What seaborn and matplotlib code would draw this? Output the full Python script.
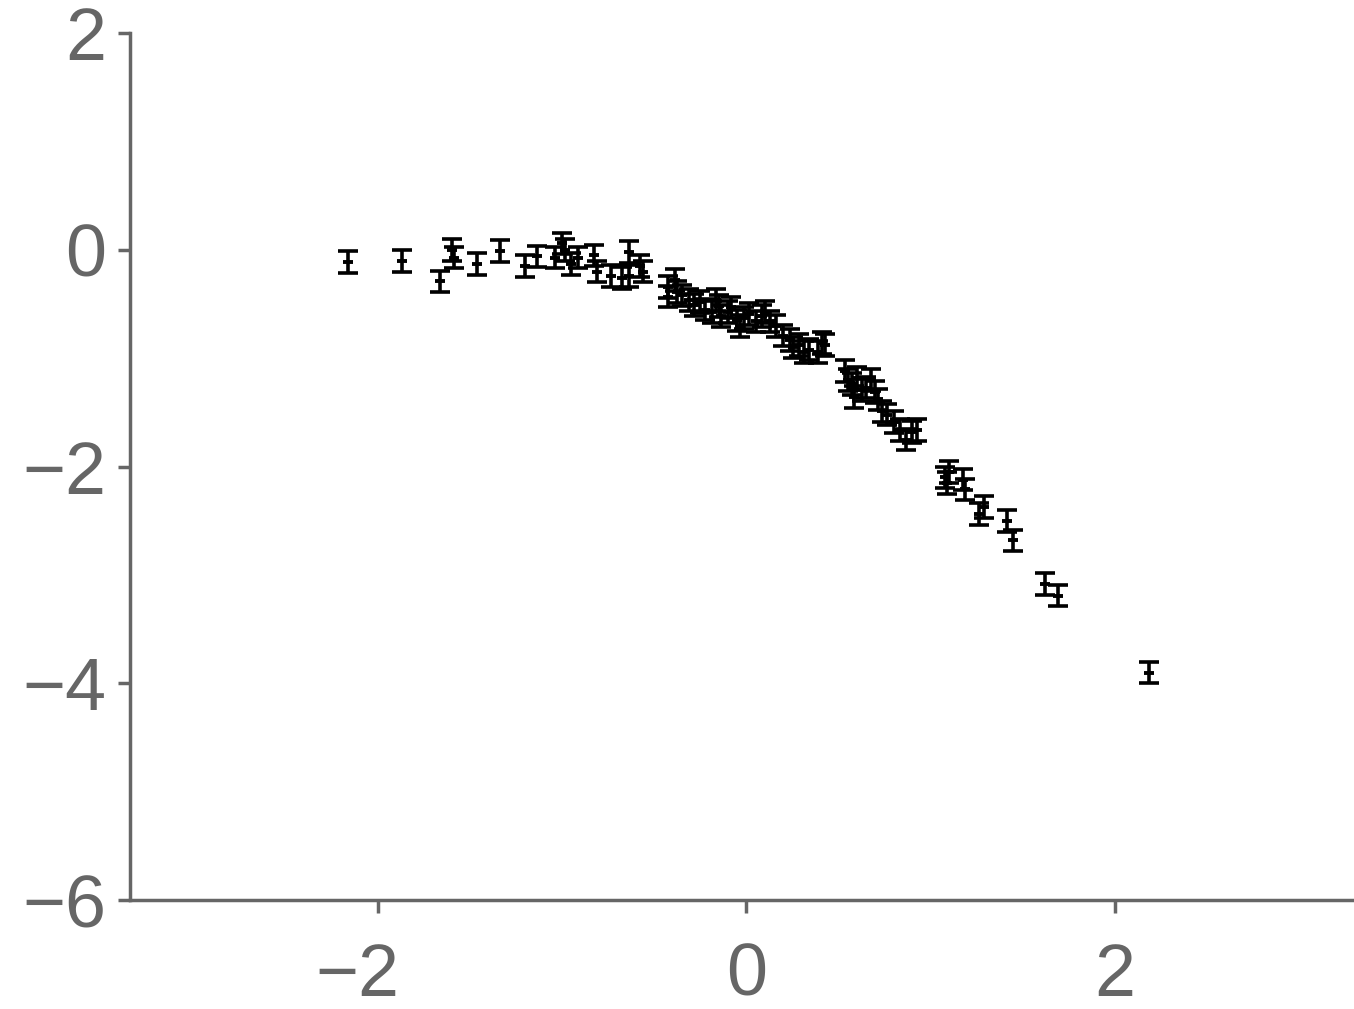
import matplotlib
matplotlib.use('Agg')
import matplotlib.pyplot as plt
import matplotlib.transforms as mtransforms
import seaborn as sns
import pandas as pd

# values
x_vals = [-2.168, -1.870, -1.663, -1.598, -1.587, -1.462, -1.337, -1.201, -1.141, -1.038,
          -1.000, -0.984, -0.951, -0.913, -0.826, -0.810, -0.734, -0.679, -0.641, -0.636,
          -0.576, -0.560, -0.429, -0.429, -0.391, -0.375, -0.348, -0.310, -0.283, -0.255,
          -0.223, -0.190, -0.168, -0.147, -0.136, -0.103, -0.082, -0.049, -0.038, -0.016,
          0.016, 0.049, 0.082, 0.103, 0.125, 0.158, 0.201, 0.234, 0.255, 0.288,
          0.315, 0.342, 0.386, 0.408, 0.429, 0.533, 0.549, 0.571, 0.582, 0.603,
          0.625, 0.647, 0.679, 0.696, 0.712, 0.734, 0.766, 0.799, 0.832, 0.864,
          0.902, 0.929, 1.076, 1.087, 1.103, 1.174, 1.190, 1.261, 1.293, 1.418,
          1.446, 1.620, 1.690, 2.185]
y_vals = [-0.11, -0.10, -0.29, 0.00, -0.07, -0.13, -0.01, -0.15, -0.06, -0.07,
          0.06, 0.00, -0.13, -0.07, -0.05, -0.20, -0.24, -0.26, -0.02, -0.24,
          -0.15, -0.20, -0.43, -0.34, -0.28, -0.39, -0.42, -0.46, -0.51, -0.48,
          -0.55, -0.57, -0.46, -0.52, -0.61, -0.57, -0.53, -0.65, -0.70, -0.63,
          -0.59, -0.66, -0.61, -0.57, -0.66, -0.70, -0.79, -0.83, -0.90, -0.88,
          -0.94, -0.92, -0.94, -0.86, -0.88, -1.12, -1.20, -1.24, -1.36, -1.18,
          -1.29, -1.27, -1.20, -1.31, -1.38, -1.49, -1.52, -1.59, -1.66, -1.75,
          -1.68, -1.66, -2.10, -2.15, -2.05, -2.12, -2.21, -2.44, -2.37, -2.50,
          -2.68, -3.08, -3.19, -3.90]
y_err = [0.10] * len(x_vals)

x_ticks = [-2, 0, 2]
y_ticks = [2, 0, -2, -4, -6]

df = pd.DataFrame({'x': x_vals, 'y': y_vals, 'err': y_err})

sns.set_style('ticks')
plt.rcParams['font.family'] = ['Liberation Sans', 'DejaVu Sans']
grey = '#666666'

fig = plt.figure(figsize=(13.54, 10.09), dpi=100)
ax = fig.add_axes([0.096, 0.108, 0.9025, 0.859])

ax.errorbar(df['x'], df['y'], yerr=df['err'], fmt='none', ecolor='black',
            elinewidth=2.6, capsize=7, capthick=2.6)
sns.scatterplot(data=df, x='x', y='y', marker='_', s=60, color='black',
                linewidth=2.8, ax=ax, legend=False)

ax.set_xlim(-3.35, 3.29)
ax.set_ylim(-6, 2)
ax.set_xticks(x_ticks)
ax.set_yticks(y_ticks)
ax.set_xticklabels(['\u22122', '0', '2'])
ax.set_yticklabels(['2', '0', '\u22122', '\u22124', '\u22126'])
ax.set_xlabel('')
ax.set_ylabel('')

sns.despine(ax=ax)
for side in ['left', 'bottom']:
    ax.spines[side].set_color(grey)
    ax.spines[side].set_linewidth(2.5)
ax.tick_params(axis='both', colors=grey, labelcolor=grey, labelsize=53,
               length=9, width=2.5)
ax.tick_params(axis='y', pad=8)
ax.tick_params(axis='x', pad=21)

# the digit sits on the tick, the minus sign hangs to the left
shift = mtransforms.ScaledTranslation(-0.21, 0, fig.dpi_scale_trans)
for val, lab in zip(x_ticks, ax.get_xticklabels()):
    if val < 0:
        lab.set_transform(lab.get_transform() + shift)

fig.savefig('out.png', dpi=100)
